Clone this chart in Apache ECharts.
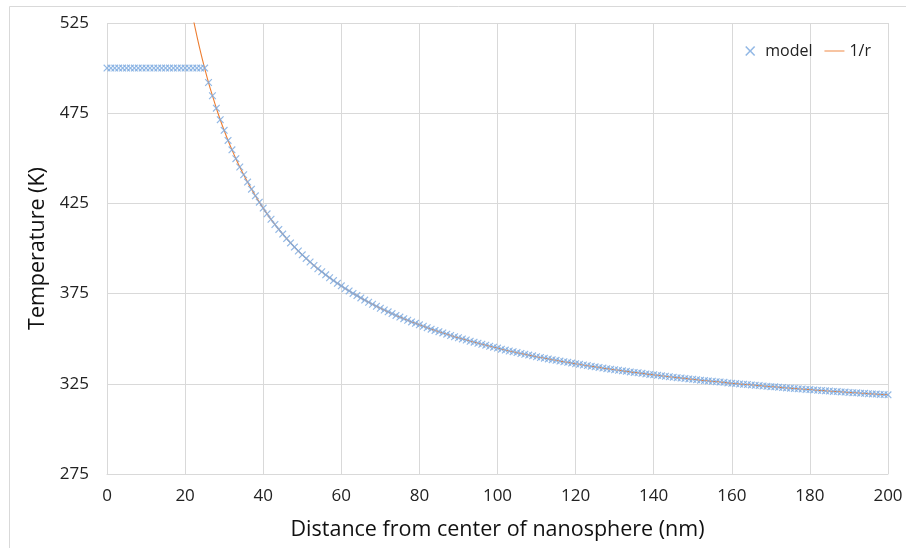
<!DOCTYPE html>
<html>
<head>
<meta charset="utf-8">
<script src="https://cdn.jsdelivr.net/npm/echarts@6/dist/echarts.min.js"></script>
<style>
  html, body { margin: 0; padding: 0; background: #fff; }
  #chart { width: 906px; height: 548px; }
</style>
</head>
<body>
<div id="chart"></div>
<script>
// Distance from the sphere centre, 1 nm steps
const radius = [];
for (let r = 0; r <= 200; r++) radius.push(r);

// Model temperature (K) at each radius 0..200 nm
const modelTemp = [
  500.0, 500.0, 500.0, 500.0, 500.0, 500.0, 500.0, 500.0, 500.0, 500.0,
  500.0, 500.0, 500.0, 500.0, 500.0, 500.0, 500.0, 500.0, 500.0, 500.0,
  500.0, 500.0, 500.0, 500.0, 500.0, 500.0, 492.0, 484.7, 477.8, 471.4,
  465.5, 459.9, 454.7, 449.8, 445.2, 440.9, 436.8, 432.9, 429.2, 425.7,
  422.4, 419.2, 416.2, 413.3, 410.6, 408.0, 405.5, 403.1, 400.8, 398.6,
  396.5, 394.5, 392.5, 390.6, 388.8, 387.1, 385.4, 383.8, 382.2, 380.7,
  379.3, 377.8, 376.5, 375.1, 373.9, 372.6, 371.4, 370.2, 369.1, 368.0,
  366.9, 365.9, 364.9, 363.9, 362.9, 362.0, 361.1, 360.2, 359.3, 358.5,
  357.7, 356.9, 356.1, 355.3, 354.6, 353.9, 353.2, 352.5, 351.8, 351.1,
  350.5, 349.9, 349.3, 348.6, 348.1, 347.5, 346.9, 346.4, 345.8, 345.3,
  344.8, 344.2, 343.7, 343.2, 342.8, 342.3, 341.8, 341.4, 340.9, 340.5,
  340.0, 339.6, 339.2, 338.8, 338.4, 338.0, 337.6, 337.2, 336.9, 336.5,
  336.1, 335.8, 335.4, 335.1, 334.7, 334.4, 334.1, 333.7, 333.4, 333.1,
  332.8, 332.5, 332.2, 331.9, 331.6, 331.3, 331.1, 330.8, 330.5, 330.2,
  330.0, 329.7, 329.4, 329.2, 328.9, 328.7, 328.4, 328.2, 328.0, 327.7,
  327.5, 327.3, 327.0, 326.8, 326.6, 326.4, 326.2, 326.0, 325.8, 325.5,
  325.3, 325.1, 324.9, 324.7, 324.6, 324.4, 324.2, 324.0, 323.8, 323.6,
  323.4, 323.3, 323.1, 322.9, 322.7, 322.6, 322.4, 322.2, 322.1, 321.9,
  321.8, 321.6, 321.4, 321.3, 321.1, 321.0, 320.8, 320.7, 320.5, 320.4,
  320.2, 320.1, 320.0, 319.8, 319.7, 319.5, 319.4, 319.3, 319.1, 319.0,
  318.9
];

// 1/r fit: radii 20..200 nm and temperatures (K)
const fitRadius = radius.slice(20);
const fitTemp = [551.8, 539.4, 528.2, 518.0, 508.6].concat(modelTemp.slice(25));

// Axis ticks
const xTicks = [0, 20, 40, 60, 80, 100, 120, 140, 160, 180, 200];
const yTicks = [275, 325, 375, 425, 475, 525];

const font = '"Open Sans", "Noto Sans", sans-serif';
const gridColor = '#d9d9d9';
const modelColor = '#7fabe0';
const fitColor = '#ed7d31';

// Thin "x" glyph used for the model points
const crossPath = 'path://M0,1.1L1.1,0L5,3.9L8.9,0L10,1.1L6.1,5L10,8.9L8.9,10L5,6.1L1.1,10L0,8.9L3.9,5Z';

const chart = echarts.init(document.getElementById('chart'), null, { renderer: 'canvas' });
chart.setOption({
  backgroundColor: '#fff',
  animation: false,
  graphic: [{
    type: 'rect', silent: true, z: -1,
    shape: { x: 9.5, y: 6.5, width: 1000, height: 1000 },
    style: { fill: 'none', stroke: gridColor, lineWidth: 1 }
  }],
  grid: { left: 107, right: 18, top: 23, bottom: 74, containLabel: false },
  legend: {
    right: 30, top: 38, itemGap: 12, itemWidth: 20, itemHeight: 10,
    textStyle: { fontFamily: font, fontSize: 16, color: '#222' },
    data: [
      { name: 'model', icon: crossPath, itemStyle: { color: modelColor } },
      { name: '1/r', icon: 'path://M0,4.5L22,4.5L22,5.5L0,5.5Z', itemStyle: { color: fitColor } }
    ]
  },
  xAxis: {
    type: 'value', min: xTicks[0], max: xTicks[xTicks.length - 1], interval: 20,
    name: 'Distance from center of nanosphere (nm)', nameLocation: 'middle', nameGap: 45,
    nameTextStyle: { fontFamily: font, fontSize: 21.5, color: '#111' },
    axisLine: { show: true, lineStyle: { color: gridColor } },
    axisTick: { show: false },
    axisLabel: { fontFamily: font, fontSize: 17, color: '#222', margin: 14 },
    splitLine: { show: true, lineStyle: { color: gridColor, width: 1 } }
  },
  yAxis: {
    type: 'value', min: yTicks[0], max: yTicks[yTicks.length - 1], interval: 50,
    name: 'Temperature (K)', nameLocation: 'middle', nameGap: 54, nameRotate: 90,
    nameTextStyle: { fontFamily: font, fontSize: 21.5, color: '#111' },
    axisLine: { show: false },
    axisTick: { show: false },
    axisLabel: { fontFamily: font, fontSize: 17, color: '#222', margin: 18 },
    splitLine: { show: true, lineStyle: { color: gridColor, width: 1 } }
  },
  series: [
    {
      name: '1/r', type: 'line', showSymbol: false, smooth: true, clip: true,
      lineStyle: { color: fitColor, width: 1.1 },
      itemStyle: { color: fitColor },
      data: fitRadius.map((r, i) => [r, fitTemp[i]]),
      z: 2
    },
    {
      name: 'model', type: 'scatter', symbol: crossPath, symbolSize: 7.5,
      itemStyle: { color: modelColor, opacity: 0.85 },
      data: radius.map((r, i) => [r, modelTemp[i]]),
      z: 3
    }
  ]
});
</script>
</body>
</html>
